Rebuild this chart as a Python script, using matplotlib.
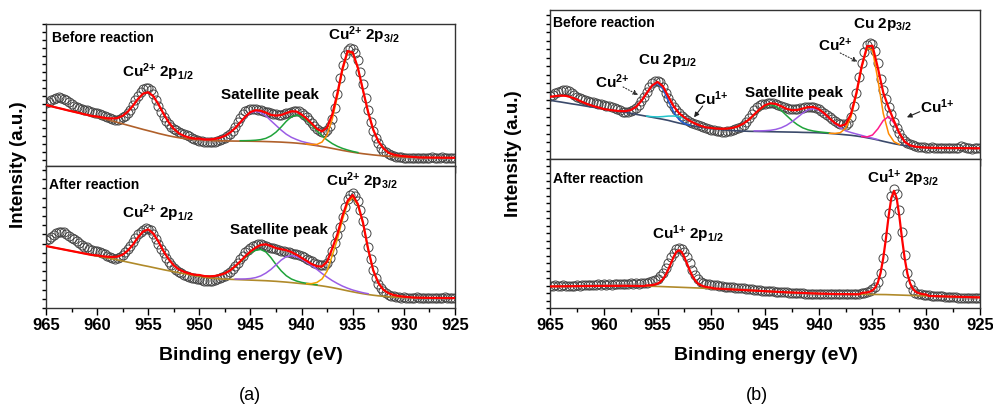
import numpy as np
import pandas as pd
import matplotlib
matplotlib.use("Agg")
import matplotlib.pyplot as plt
from matplotlib.ticker import MultipleLocator

plt.rcParams['font.family'] = 'Liberation Sans'
plt.rcParams['font.weight'] = 'bold'
plt.rcParams['mathtext.fontset'] = 'custom'
plt.rcParams['mathtext.rm'] = 'Liberation Sans:bold'
plt.rcParams['mathtext.it'] = 'Liberation Sans:bold'
plt.rcParams['mathtext.bf'] = 'Liberation Sans:bold'
plt.rcParams['mathtext.default'] = 'rm'

# raw spectra: 965 -> 925 eV, 0.25 eV step (arb. units)
a1_raw = [63.0, 64.5, 66.0, 67.5, 68.5, 69.0, 68.5, 67.5,
          66.0, 64.0, 62.0, 60.5, 59.0, 58.0, 57.5, 56.5,
          56.0, 55.0, 54.0, 53.5, 52.7, 52.0, 51.0, 50.0,
          49.3, 48.0, 47.0, 46.0, 46.5, 47.5, 48.8, 50.5,
          53.0, 56.5, 61.0, 66.0, 70.5, 74.5, 77.0, 78.0,
          78.0, 76.5, 72.0, 66.0, 60.0, 54.5, 49.5, 45.0,
          42.0, 39.5, 37.5, 36.0, 34.5, 33.0, 32.0, 31.0,
          30.0, 28.5, 27.0, 26.0, 25.5, 25.0, 24.5, 24.0,
          24.3, 24.0, 24.5, 25.0, 26.0, 27.0, 28.5, 30.0,
          32.0, 35.0, 39.0, 44.0, 48.5, 52.0, 55.0, 56.5,
          57.0, 57.5, 57.0, 56.5, 56.0, 55.5, 54.5, 54.0,
          53.0, 52.5, 52.0, 51.5, 51.5, 52.0, 52.7, 53.5,
          54.5, 55.0, 55.5, 55.0, 53.5, 51.5, 49.3, 46.5,
          43.5, 40.0, 37.5, 35.5, 34.3, 34.5, 36.0, 40.0,
          47.0, 58.0, 72.0, 88.0, 101.0, 111.0, 116.0, 118.0,
          117.5, 113.5, 106.0, 94.5, 82.0, 68.5, 56.0, 44.5,
          35.0, 28.0, 22.7, 18.5, 15.5, 13.7, 12.0, 11.0,
          10.0, 9.3, 9.0, 8.6, 8.4, 8.3, 8.0, 8.4,
          8.2, 7.8, 8.3, 8.0, 8.5, 7.9, 8.2, 8.6,
          8.0, 7.8, 8.3, 9.0, 8.1, 7.7, 8.4, 8.0,
          7.9]

a2_raw = [68.0, 69.5, 71.5, 73.5, 75.0, 76.0, 76.3, 76.0,
          74.5, 72.5, 70.5, 69.0, 67.0, 65.0, 63.0, 61.5,
          60.7, 59.5, 58.5, 57.5, 57.0, 56.3, 55.5, 54.0,
          52.5, 51.0, 49.7, 49.5, 50.0, 51.5, 53.5, 56.0,
          59.0, 62.5, 66.5, 70.5, 74.0, 76.5, 78.5, 79.7,
          79.5, 78.0, 74.5, 69.5, 64.5, 59.5, 55.0, 50.5,
          46.5, 43.0, 40.5, 38.0, 36.5, 35.0, 33.5, 32.5,
          31.5, 30.5, 30.0, 29.5, 29.0, 28.0, 27.5, 27.0,
          27.3, 27.5, 28.0, 29.0, 30.0, 31.0, 32.5, 34.0,
          36.0, 39.0, 42.0, 45.5, 49.0, 52.5, 56.0, 58.5,
          60.5, 62.5, 63.5, 64.0, 64.0, 63.5, 62.5, 61.5,
          60.5, 59.7, 59.0, 58.0, 57.5, 57.0, 56.3, 55.8,
          55.3, 54.5, 54.0, 53.3, 52.5, 51.0, 49.5, 48.0,
          46.8, 45.5, 44.5, 43.5, 43.0, 43.5, 45.5, 50.0,
          57.0, 65.0, 73.0, 81.3, 91.0, 101.0, 109.0, 113.5,
          114.7, 112.5, 107.0, 98.0, 87.0, 75.0, 61.0, 49.0,
          38.0, 30.5, 24.5, 20.5, 17.5, 15.0, 13.5, 12.5,
          11.8, 11.2, 10.8, 10.5, 10.7, 10.2, 10.5, 10.0,
          10.4, 10.6, 10.0, 10.3, 9.9, 10.5, 10.2, 9.8,
          10.4, 10.1, 9.6, 10.3, 10.8, 10.0, 9.7, 10.4,
          10.1]

b1_raw = [63.0, 64.5, 66.0, 67.0, 68.5, 69.3, 69.0, 68.0,
          66.5, 64.5, 62.6, 61.5, 60.5, 59.5, 58.5, 57.6,
          57.0, 56.0, 55.5, 55.0, 54.0, 53.3, 53.0, 52.0,
          51.0, 50.0, 49.0, 47.6, 47.0, 47.5, 48.5, 49.3,
          51.0, 54.0, 58.0, 62.6, 67.0, 72.0, 76.0, 78.0,
          78.6, 77.0, 72.0, 66.5, 61.0, 56.0, 52.5, 49.0,
          46.0, 43.5, 41.0, 39.0, 37.6, 36.0, 35.0, 34.0,
          33.0, 32.0, 31.0, 30.5, 29.5, 29.0, 28.5, 28.0,
          27.6, 27.5, 28.0, 28.5, 29.0, 30.0, 31.0, 32.0,
          34.0, 37.0, 41.0, 45.5, 49.3, 52.0, 54.3, 55.0,
          55.5, 56.0, 56.0, 56.0, 55.5, 54.5, 53.5, 52.0,
          51.0, 50.5, 50.0, 50.5, 50.5, 51.0, 51.5, 52.0,
          52.5, 52.6, 52.5, 51.5, 50.0, 48.0, 46.0, 44.3,
          42.0, 40.0, 38.0, 36.5, 35.5, 34.8, 34.3, 36.0,
          42.0, 53.0, 66.0, 82.0, 96.0, 107.5, 114.0, 116.6,
          115.5, 108.0, 96.0, 80.0, 69.0, 60.5, 52.5, 45.0,
          37.5, 31.0, 26.0, 21.5, 18.5, 16.5, 15.0, 14.3,
          13.5, 12.8, 12.5, 12.0, 11.8, 11.5, 11.9, 11.2,
          11.6, 11.0, 11.4, 11.8, 11.1, 11.5, 10.9, 11.6,
          11.3, 13.0, 12.0, 11.2, 11.5, 10.8, 11.2, 11.7,
          11.0]

b2_raw = [22.3, 21.8, 22.6, 22.0, 22.4, 22.9, 22.2, 22.5,
          21.9, 22.3, 22.8, 22.4, 23.0, 22.6, 23.2, 22.8,
          23.3, 23.0, 23.6, 23.2, 23.7, 23.4, 23.9, 23.5,
          24.0, 23.7, 24.2, 24.0, 24.5, 24.1, 24.6, 24.3,
          24.7, 24.4, 24.8, 24.9, 25.3, 25.8, 26.6, 27.8,
          29.5, 32.0, 35.5, 40.0, 45.5, 51.0, 55.5, 58.8,
          60.3, 59.5, 56.5, 51.5, 45.0, 38.5, 33.0, 29.0,
          26.5, 25.0, 24.3, 23.8, 23.4, 23.0, 22.6, 22.2,
          21.9, 21.5, 21.2, 20.9, 20.6, 20.4, 20.1, 19.9,
          19.6, 19.3, 19.0, 18.7, 18.4, 18.1, 17.8, 17.5,
          17.3, 17.1, 16.9, 16.7, 16.5, 16.3, 16.1, 15.9,
          15.7, 15.5, 15.3, 15.1, 14.9, 14.8, 14.6, 14.5,
          14.4, 14.3, 14.2, 14.1, 14.0, 13.9, 13.8, 13.8,
          13.7, 13.7, 13.6, 13.7, 13.6, 13.7, 13.6, 13.8,
          13.7, 13.9, 14.0, 14.2, 14.6, 15.1, 15.8, 17.0,
          18.8, 21.5, 26.3, 35.0, 50.0, 71.0, 95.0, 112.5,
          118.7, 114.0, 98.0, 76.0, 53.0, 35.0, 24.0, 18.0,
          15.5, 14.3, 13.6, 13.2, 13.0, 12.7, 12.5, 12.2,
          12.0, 11.8, 11.6, 11.4, 11.2, 11.0, 10.9, 10.6,
          10.3, 10.5, 10.1, 10.4, 9.9, 10.2, 9.7, 10.0,
          9.8]

# (a) before reaction: background and fitted peaks, 0.5 eV step
a1_bg = [61, 59.8, 58.5, 57.3, 56, 54.8, 53.6, 52.4, 51.2, 50,
         48.8, 47.6, 46.3, 45, 43.6, 42.2, 40.8, 39.4, 38, 36.6,
         35.3, 34, 32.6, 31.4, 30.2, 29.2, 28.3, 27.6, 27, 26.5,
         26.1, 25.8, 25.5, 25.3, 25.2, 25.1, 25, 24.95, 24.9, 24.85,
         24.8, 24.7, 24.6, 24.45, 24.3, 24.1, 23.9, 23.6, 23.3, 22.9,
         22.4, 21.8, 21.1, 20.3, 19.5, 18.6, 17.6, 16.6, 15.6, 14.7,
         13.8, 13, 12.3, 11.7, 11.1, 10.6, 10.1, 9.7, 9.4, 9.2,
         9, 8.85, 8.7, 8.6, 8.5, 8.45, 8.4, 8.35, 8.3, 8.25,
         8.2]
a1_p12 = [0.7, 1.0, 1.5, 2.5, 4.4, 8.0, 13.5, 20.8, 29.1, 35.8, 38.5,
          35.8, 29.1, 20.8, 13.5, 8.0, 4.4, 2.5, 1.5, 1.0, 0.7]           # 960 ->
a1_sat1 = [0.6, 0.8, 1.1, 1.8, 3.0, 5.1, 8.4, 12.9, 18.3, 24.0, 28.4, 30.0,
           28.8, 25.8, 21.0, 16.5, 12.0, 8.2, 5.4, 3.6, 2.2, 1.5, 1.1, 0.75]  # 950 ->
a1_sat2 = [0.4, 0.5, 0.7, 1.1, 1.8, 3.2, 5.8, 9.8, 15.1, 21.1, 26.0, 28.0,
           26.9, 23.7, 19.6, 14.8, 10.6, 7.3, 4.8, 3.1, 2.0, 1.3, 0.8, 0.5]   # 946 ->
a1_p32 = [0.3, 0.6, 1.3, 4.5, 12.7, 29.3, 53.0, 80.0, 99.0, 99.0, 84.8,
          63.6, 42.4, 25.3, 14.1, 7.6, 3.5, 2.0, 1.2, 0.8, 0.5, 0.3]        # 939.5 ->

# (a) after reaction
a2_bg = [62, 61, 60, 59, 58, 57, 56, 55, 54, 53,
         52, 51, 50.1, 49.1, 48.1, 47, 45.9, 44.8, 43.7, 42.6,
         41.6, 40.5, 39.4, 38.3, 37.3, 36.3, 35.3, 34.3, 33.4, 32.5,
         31.6, 30.8, 30.1, 29.6, 29.2, 28.9, 28.7, 28.5, 28.3, 28.1,
         27.9, 27.7, 27.5, 27.3, 27, 26.7, 26.3, 25.9, 25.4, 24.9,
         24.4, 23.9, 23.4, 22.8, 22.1, 21.3, 20.4, 19.4, 18.3, 17.2,
         16.2, 15.2, 14.3, 13.5, 12.8, 12.2, 11.7, 11.3, 11, 10.8,
         10.6, 10.5, 10.4, 10.3, 10.2, 10.15, 10.1, 10.05, 10, 9.95,
         9.9]
a2_p12 = [0.6, 0.8, 1.2, 1.9, 3.3, 6.3, 11.5, 18.5, 27.0, 33.9, 37.0,
          33.9, 27.0, 18.5, 11.5, 6.3, 3.3, 1.9, 1.2, 0.8, 0.6]            # 960 ->
a2_sat1 = [0.8, 1.1, 1.6, 2.4, 3.8, 5.8, 8.8, 12.8, 17.6, 22.8, 27.0, 30.0,
           31.0, 28.8, 23.4, 16.7, 10.9, 6.4, 3.6, 2.1, 1.2, 0.8, 0.6, 0.4]   # 950 ->
a2_sat2 = [0.5, 0.7, 1.0, 1.6, 2.7, 4.6, 7.6, 11.6, 16.5, 21.6, 25.5, 27.0,
           26.3, 24.6, 21.9, 18.9, 15.8, 12.4, 9.5, 7.0, 5.1, 3.6, 2.6, 1.8,
           1.4, 1.0, 0.8]                                                  # 946.5 ->
a2_p32 = [0.5, 1.0, 2.8, 7.0, 15.7, 32.3, 49.4, 70.3, 87.4, 95.0, 87.4,
          70.3, 45.0, 25.0, 13.0, 6.5, 3.5, 2.0, 1.2, 0.7, 0.4]            # 939.5 ->

# (b) before reaction
b1_bg = [59, 58.1, 57.3, 56.4, 55.5, 54.7, 53.8, 52.9, 52.1, 51.2,
         50.3, 49.4, 48.6, 47.7, 46.9, 46, 45, 44, 43, 42,
         41, 40, 38.9, 37.5, 36.2, 35, 33.9, 33, 32.1, 31.3,
         30.6, 30, 29.5, 29.1, 28.7, 28.4, 28.2, 28, 27.9, 27.8,
         27.7, 27.6, 27.5, 27.4, 27.3, 27.2, 27.1, 26.9, 26.8, 26.7,
         26.5, 26.2, 25.9, 25.5, 25, 24.5, 24, 23.3, 22.5, 21.5,
         20.5, 19.3, 18, 16.8, 15.6, 14.6, 13.7, 13, 12.4, 12,
         11.7, 11.5, 11.4, 11.3, 11.3, 11.2, 11.2, 11.1, 11.1, 11,
         11]
b1_sat0 = [3.5, 5.1, 6.4, 7.0, 6.4, 5.1, 3.5, 2.2, 1.2, 0.6]                # 965 ->
b1_cu2_12 = [0.1, 0.5, 1.2, 3.2, 7.4, 14.4, 23.1, 31.2, 35.0, 30.3,
             19.6, 9.8, 3.5, 0.9, 0.2]                                     # 959 ->
b1_cu1_12 = [0.2, 0.6, 1.4, 2.7, 4.3, 5.8, 6.5, 5.8, 4.3, 2.7, 1.4, 0.6, 0.2]  # 956 ->
b1_sat1 = [0.5, 0.7, 1.0, 1.6, 2.7, 4.6, 7.6, 11.6, 16.5, 21.6, 25.5, 27.0,
           25.5, 21.6, 16.5, 11.6, 7.6, 4.6, 2.7, 1.6, 1.0, 0.7, 0.5]        # 950 ->
b1_sat2 = [0.5, 0.6, 0.9, 1.4, 2.4, 4.1, 6.7, 10.3, 14.6, 19.2, 22.7, 24.0,
           22.7, 19.2, 14.6, 10.3, 6.7, 4.0, 2.8, 2.0, 1.4, 0.9, 0.6, 0.4]   # 946 ->
b1_cu2_32 = [0.1, 0.4, 1.6, 6.5, 18.6, 41.0, 69.3, 89.8, 88.6, 60.4,
             27.9, 8.8, 2.0, 0.3]                                          # 939 ->
b1_cu1_32 = [0.2, 0.9, 3.8, 11.2, 20.8, 26.0, 20.8, 11.2, 3.8, 0.9, 0.2]   # 936 ->

# (b) after reaction, 0.25 eV step
b2_bg = [21.6, 21.63, 21.65, 21.68, 21.7, 21.73, 21.75, 21.78,
         21.8, 21.83, 21.85, 21.88, 21.9, 21.93, 21.95, 21.98,
         22.0, 22.03, 22.05, 22.08, 22.1, 22.13, 22.15, 22.18,
         22.2, 22.2, 22.2, 22.2, 22.2, 22.18, 22.15, 22.13,
         22.1, 22.05, 22.0, 21.95, 21.9, 21.83, 21.75, 21.68,
         21.6, 21.5, 21.4, 21.3, 21.2, 21.1, 21.0, 20.9,
         20.8, 20.7, 20.6, 20.5, 20.4, 20.33, 20.25, 20.18,
         20.1, 20.0, 19.9, 19.8, 19.7, 19.58, 19.45, 19.33,
         19.2, 19.05, 18.9, 18.75, 18.6, 18.45, 18.3, 18.15,
         18.0, 17.85, 17.7, 17.55, 17.4, 17.25, 17.1, 16.95,
         16.8, 16.65, 16.5, 16.35, 16.2, 16.08, 15.95, 15.83,
         15.7, 15.58, 15.45, 15.33, 15.2, 15.1, 15.0, 14.9,
         14.8, 14.7, 14.6, 14.5, 14.4, 14.33, 14.25, 14.18,
         14.1, 14.05, 14.0, 13.95, 13.9, 13.88, 13.85, 13.83,
         13.8, 13.78, 13.75, 13.73, 13.7, 13.68, 13.65, 13.63,
         13.6, 13.58, 13.55, 13.53, 13.5, 13.43, 13.35, 13.28,
         13.2, 13.1, 13.0, 12.9, 12.8, 12.7, 12.6, 12.5,
         12.4, 12.33, 12.25, 12.18, 12.1, 12.03, 11.95, 11.88,
         11.8, 11.73, 11.65, 11.58, 11.5, 11.43, 11.35, 11.28,
         11.2, 11.13, 11.05, 10.98, 10.9, 10.83, 10.75, 10.68,
         10.6]
b2_p12 = [0.7, 0.85, 1.2, 1.8, 2.8, 4.4, 7.4, 11.5, 17.2, 23.7, 30.2, 35.2, 37.0,
          35.2, 30.2, 23.7, 17.2, 11.5, 7.4, 4.4, 2.8, 1.8, 1.2, 0.85, 0.7]   # 956 ->
b2_p32 = [1.4, 1.6, 2.0, 2.7, 4.0, 6.8, 12.0, 21.5, 36.4, 56.2, 78.5, 96.7, 104.0,
          96.7, 78.5, 56.2, 36.4, 21.5, 12.0, 6.8, 4.0, 2.7, 2.0, 1.6, 1.4]   # 936 ->


def spec(start, step, vals):
    be = np.round(start - step * np.arange(len(vals)), 3)
    return pd.Series(vals, index=be, dtype=float)


def draw_panel(ax, raw, bg, bg_color, comps, hidden=()):
    r = spec(965, 0.25, raw)
    ax.plot(r.index, r.values, 'o', ms=6.5, mfc='none', mec='#454545',
            mew=0.7, zorder=1)
    env = bg.copy()
    for s, col in comps:
        env = env.add(s, fill_value=0)
        ax.plot(s.index, s.values + bg.reindex(s.index).values, color=col,
                lw=1.1, zorder=3)
    for s in hidden:
        env = env.add(s, fill_value=0)
    ax.plot(bg.index, bg.values, color=bg_color, lw=1.2, zorder=2)
    ax.plot(env.index, env.values, color='#ff0000', lw=1.6, zorder=5)


def style(ax, ytop, ystep, yoff, bottom):
    ax.set_xlim(965, 925)
    ax.set_ylim(0, ytop)
    ax.xaxis.set_major_locator(MultipleLocator(5))
    ax.xaxis.set_minor_locator(MultipleLocator(2.5))
    ax.yaxis.set_major_locator(MultipleLocator(ystep, yoff))
    ax.tick_params(axis='x', which='major', direction='out', length=5,
                   width=1, labelsize=12, labelbottom=bottom, pad=2)
    ax.tick_params(axis='x', which='minor', direction='out', length=3, width=1)
    ax.tick_params(axis='y', direction='out', length=3, width=1,
                   labelleft=False)
    for sp in ax.spines.values():
        sp.set_color('#333333')
        sp.set_linewidth(1.0)


fig = plt.figure(figsize=(9.93, 4.09), dpi=100)
ax_a1 = fig.add_axes([0.0463, 0.5941, 0.4119, 0.3472])
ax_a2 = fig.add_axes([0.0463, 0.2469, 0.4119, 0.3472])
ax_b1 = fig.add_axes([0.5539, 0.6105, 0.4330, 0.3651])
ax_b2 = fig.add_axes([0.5539, 0.2469, 0.4330, 0.3636])

purple, green, orange = '#9b5de5', '#1fa33a', '#ff8a00'

draw_panel(ax_a1, a1_raw, spec(965, 0.5, a1_bg), '#b0602a',
           [(spec(950, 0.5, a1_sat1), purple),
            (spec(946, 0.5, a1_sat2), green),
            (spec(939.5, 0.5, a1_p32), orange)],
           hidden=[spec(960, 0.5, a1_p12)])
draw_panel(ax_a2, a2_raw, spec(965, 0.5, a2_bg), '#b08a2a',
           [(spec(950, 0.5, a2_sat1), green),
            (spec(946.5, 0.5, a2_sat2), purple),
            (spec(939.5, 0.5, a2_p32), '#f0a000')],
           hidden=[spec(960, 0.5, a2_p12)])
draw_panel(ax_b1, b1_raw, spec(965, 0.5, b1_bg), '#3b4a6b',
           [(spec(959, 0.5, b1_cu2_12), '#1f5fd8'),
            (spec(956, 0.5, b1_cu1_12), '#22c4cc'),
            (spec(950, 0.5, b1_sat1), green),
            (spec(946, 0.5, b1_sat2), purple),
            (spec(939, 0.5, b1_cu2_32), orange),
            (spec(936, 0.5, b1_cu1_32), '#ff1a8c')],
           hidden=[spec(965, 0.5, b1_sat0)])
draw_panel(ax_b2, b2_raw, spec(965, 0.25, b2_bg), '#b08a2a', [],
           hidden=[spec(956, 0.25, b2_p12), spec(936, 0.25, b2_p32)])

style(ax_a1, 142, 8, 6, False)
style(ax_a2, 142, 9.2, 0, True)
style(ax_b1, 149.3, 8.47, 0, False)
style(ax_b2, 148.7, 7.5, 0, True)

lab = dict(fontsize=11, ha='center', va='center', zorder=6)
ax_a1.text(964.45, 128, 'Before reaction', fontsize=10, va='center')
ax_a1.text(954.1, 94, r'Cu$^{2{+}}$ 2p$_{1/2}$', **lab)
ax_a1.text(943.1, 71, 'Satellite peak', **lab)
ax_a1.text(933.9, 131, r'Cu$^{2{+}}$ 2p$_{3/2}$', **lab)

ax_a2.text(964.7, 123, 'After reaction', fontsize=10, va='center')
ax_a2.text(954.1, 95, r'Cu$^{2{+}}$ 2p$_{1/2}$', **lab)
ax_a2.text(942.2, 78, 'Satellite peak', **lab)
ax_a2.text(934.1, 127, r'Cu$^{2{+}}$ 2p$_{3/2}$', **lab)

ax_b1.text(964.7, 136.5, 'Before reaction', fontsize=10, va='center')
ax_b1.text(954.1, 99, r'Cu 2p$_{1/2}$', **lab)
ax_b1.text(959.2, 77.5, r'Cu$^{2{+}}$', **lab)
ax_b1.text(950.0, 60.5, r'Cu$^{1{+}}$', **lab)
ax_b1.text(942.3, 66.5, 'Satellite peak', **lab)
ax_b1.text(934.1, 134.5, r'Cu 2p$_{3/2}$', **lab)
ax_b1.text(938.5, 114.5, r'Cu$^{2{+}}$', **lab)
ax_b1.text(929.0, 52.5, r'Cu$^{1{+}}$', **lab)

dotted = dict(arrowstyle='-|>', lw=0.8, ls=':', color='#333333',
              mutation_scale=7, shrinkA=0, shrinkB=0)
solid = dict(arrowstyle='-|>', lw=0.8, color='#222222',
             mutation_scale=7, shrinkA=0, shrinkB=0)
ax_b1.annotate('', xy=(956.8, 64.3), xytext=(958.2, 72.3), arrowprops=dotted)
ax_b1.annotate('', xy=(951.6, 42.0), xytext=(950.8, 53.3), arrowprops=solid)
ax_b1.annotate('', xy=(936.4, 97.6), xytext=(938.0, 106.3), arrowprops=dotted)
ax_b1.annotate('', xy=(931.8, 42.0), xytext=(930.6, 47.6), arrowprops=solid)

ax_b2.text(964.7, 129, 'After reaction', fontsize=10, va='center')
ax_b2.text(952.2, 74, r'Cu$^{1{+}}$ 2p$_{1/2}$', **lab)
ax_b2.text(932.2, 130.3, r'Cu$^{1{+}}$ 2p$_{3/2}$', **lab)

fig.text(0.0191, 0.5966, 'Intensity (a.u.)', rotation=90, fontsize=13.5,
         ha='center', va='center')
fig.text(0.5176, 0.6235, 'Intensity (a.u.)', rotation=90, fontsize=13.5,
         ha='center', va='center')
fig.text(0.2528, 0.1296, 'Binding energy (eV)', fontsize=14,
         ha='center', va='center')
fig.text(0.7714, 0.1296, 'Binding energy (eV)', fontsize=14,
         ha='center', va='center')
fig.text(0.2518, 0.0318, '(a)', fontsize=13, fontweight='normal',
         ha='center', va='center')
fig.text(0.7623, 0.0318, '(b)', fontsize=13, fontweight='normal',
         ha='center', va='center')

fig.savefig('out.png', dpi=100)
